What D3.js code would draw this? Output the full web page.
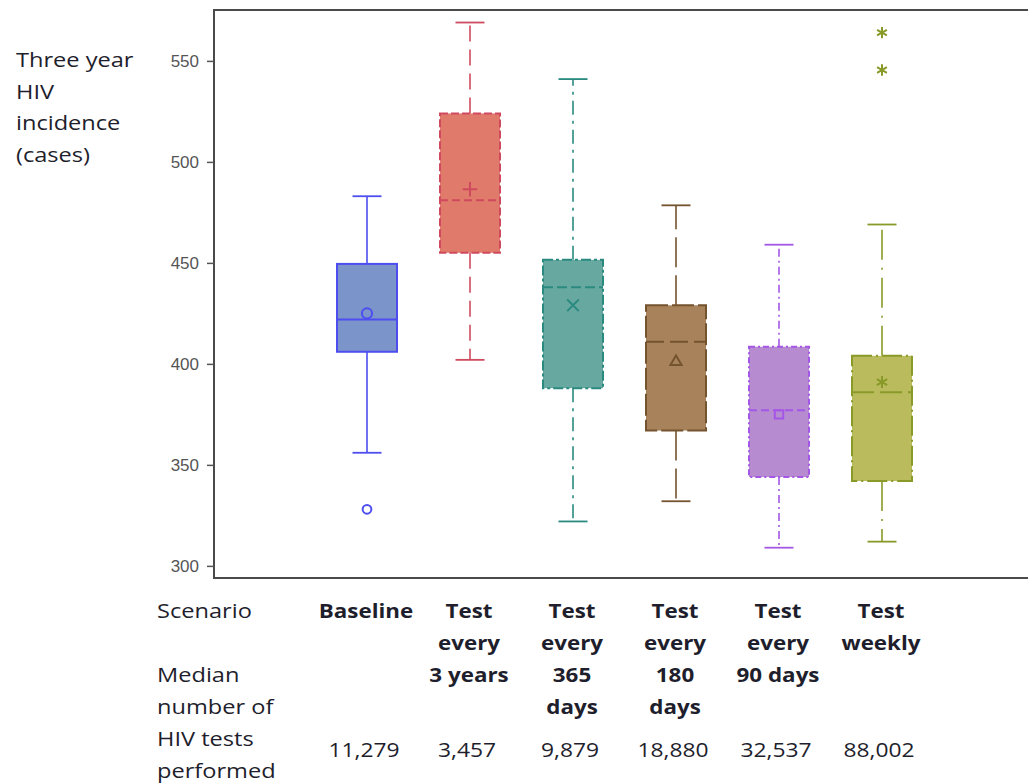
<!DOCTYPE html>
<html>
<head>
<meta charset="utf-8">
<script src="https://cdn.jsdelivr.net/npm/d3@7"></script>
<style>
  html, body { margin: 0; padding: 0; background: #fff; }
  svg { display: block; }
</style>
</head>
<body>
<svg id="chart" width="1028" height="784"></svg>
<script>
// Scenario categories and their box-plot summaries (three-year HIV incidence, cases)
const scenarios = ["Baseline", "Test every 3 years", "Test every 365 days",
                   "Test every 180 days", "Test every 90 days", "Test weekly"];
const lowerWhisker = [356, 402, 322, 332, 309, 312];
const q1           = [406, 455, 388, 367, 344, 342];
const median       = [422, 481, 438, 411, 377, 386];
const q3           = [449.5, 524, 451.5, 429, 408.5, 404];
const upperWhisker = [483, 569, 541, 478.5, 459, 469];
const means        = [425, 486.5, 429, 401, 375, 391];
const outliers     = [[328], [], [], [], [], [564, 545.5]];

// Table rows under the plot
const scenarioLabels = [["Baseline"], ["Test", "every", "3 years"], ["Test", "every", "365", "days"],
                        ["Test", "every", "180", "days"], ["Test", "every", "90 days"], ["Test", "weekly"]];
const testsPerformed = ["11,279", "3,457", "9,879", "18,880", "32,537", "88,002"];
const yTicks = [300, 350, 400, 450, 500, 550];
const yTitle = ["Three year", "HIV", "incidence", "(cases)"];
const tableHead = ["Scenario", "", "Median", "number of", "HIV tests", "performed"];

// Per-group appearance
const fills   = ["#7b95cb", "#e07b6c", "#67a8a0", "#a8825a", "#b68bd0", "#b9bb5c"];
const strokes = ["#4d4df0", "#cf4a5e", "#2b8a80", "#74532f", "#a457e6", "#899a28"];
const whiskerDash = [null, "16,8", "14,6,3,6", "30,8", "8,4,2,4", "30,8,2,8"];
const boxDash     = [null, "8,3", "10,3,3,3", "22,4", "6,3,2,3", "20,4,2,4"];
const medianDash  = [null, "8,4", "10,4", "18,6", "8,4", "22,6"];
const meanSymbols = [d3.symbolCircle, d3.symbolPlus, d3.symbolTimes, d3.symbolTriangle2, d3.symbolSquare2, d3.symbolAsterisk];
const meanSizes   = [80, 70, 90, 90, 90, 100];
const outlierSymbols = [d3.symbolCircle, d3.symbolPlus, d3.symbolTimes, d3.symbolTriangle2, d3.symbolSquare2, d3.symbolAsterisk];

const svg = d3.select("#chart");
const frame = { left: 214, top: 10, bottom: 578, right: 1040 };
const fontFamily = "'Open Sans', 'Noto Sans', sans-serif";
const textColor = "#1e1e2c";
const stretch = 1.18, boldStretch = 1.12, numStretch = 1.14;

const y = d3.scaleLinear().domain([294, 575.2]).range([frame.bottom, frame.top]);
const x = d3.scalePoint().domain(scenarios).range([367, 882]);
const boxW = 60, capW = 29;

// Frame
svg.append("path")
  .attr("d", `M${frame.right},${frame.top}H${frame.left}V${frame.bottom}H${frame.right}`)
  .attr("fill", "none").attr("stroke", "#4a4a4a").attr("stroke-width", 2);

// Y axis ticks and labels
const yAxis = svg.append("g")
  .attr("transform", `translate(${frame.left},0)`)
  .call(d3.axisLeft(y).tickValues(yTicks).tickSize(7).tickPadding(8));
yAxis.select(".domain").remove();
yAxis.selectAll(".tick line").attr("stroke", "#555").attr("stroke-width", 1.5);
yAxis.selectAll(".tick text")
  .attr("fill", "#555").attr("font-size", 17)
  .attr("font-family", "'Liberation Sans', Arial, sans-serif");

// Boxes
const groups = svg.append("g").selectAll("g").data(scenarios).join("g");
groups.each(function (s, i) {
  const g = d3.select(this);
  const cx = x(s);
  const col = strokes[i];
  // whiskers
  [[q3[i], upperWhisker[i]], [q1[i], lowerWhisker[i]]].forEach(([a, b]) => {
    g.append("line").attr("x1", cx).attr("x2", cx).attr("y1", y(a)).attr("y2", y(b))
      .attr("stroke", col).attr("stroke-width", 1.6).attr("stroke-dasharray", whiskerDash[i]);
    g.append("line").attr("x1", cx - capW / 2).attr("x2", cx + capW / 2).attr("y1", y(b)).attr("y2", y(b))
      .attr("stroke", col).attr("stroke-width", 1.8);
  });
  // box
  g.append("rect").attr("x", cx - boxW / 2).attr("width", boxW)
    .attr("y", y(q3[i])).attr("height", y(q1[i]) - y(q3[i]))
    .attr("fill", fills[i]).attr("stroke", col).attr("stroke-width", 2)
    .attr("stroke-dasharray", boxDash[i]);
  // median
  g.append("line").attr("x1", cx - boxW / 2).attr("x2", cx + boxW / 2)
    .attr("y1", y(median[i])).attr("y2", y(median[i]))
    .attr("stroke", col).attr("stroke-width", 2).attr("stroke-dasharray", medianDash[i]);
  // mean marker
  g.append("path").attr("d", d3.symbol(meanSymbols[i], meanSizes[i])())
    .attr("transform", `translate(${cx},${y(means[i])})`)
    .attr("fill", "none").attr("stroke", col).attr("stroke-width", 2);
  // outliers
  outliers[i].forEach(v => {
    g.append("path").attr("d", d3.symbol(outlierSymbols[i], i === 0 ? 60 : 90)())
      .attr("transform", `translate(${cx},${y(v)})`)
      .attr("fill", "none").attr("stroke", col).attr("stroke-width", 2);
  });
});

// Y title (left)
const lineH = 32;
svg.append("g").selectAll("text").data(yTitle).join("text")
  .attr("transform", (d, i) => `translate(16,${67 + i * 31.5}) scale(${stretch},1)`)
  .attr("font-family", fontFamily).attr("font-size", 20).attr("fill", textColor)
  .text(d => d);

// Table heading column
svg.append("g").selectAll("text").data(tableHead).join("text")
  .attr("transform", (d, i) => `translate(157,${618 + i * lineH}) scale(${stretch},1)`)
  .attr("font-family", fontFamily).attr("font-size", 20).attr("fill", textColor)
  .text(d => d);

// Scenario names (bold) under each box
scenarioLabels.forEach((lines, i) => {
  svg.append("g").selectAll("text").data(lines).join("text")
    .attr("transform", (d, j) => `translate(${x(scenarios[i]) - 1},${618 + j * lineH}) scale(${boldStretch},1)`)
    .attr("text-anchor", "middle").attr("font-weight", "bold")
    .attr("font-family", fontFamily).attr("font-size", 20).attr("fill", textColor)
    .text(d => d);
});

// Median number of HIV tests
svg.append("g").selectAll("text").data(testsPerformed).join("text")
  .attr("transform", (d, i) => `translate(${x(scenarios[i]) - 3},757) scale(${numStretch},1)`)
  .attr("text-anchor", "middle")
  .attr("font-family", fontFamily).attr("font-size", 20).attr("fill", textColor)
  .text(d => d);
</script>
</body>
</html>
